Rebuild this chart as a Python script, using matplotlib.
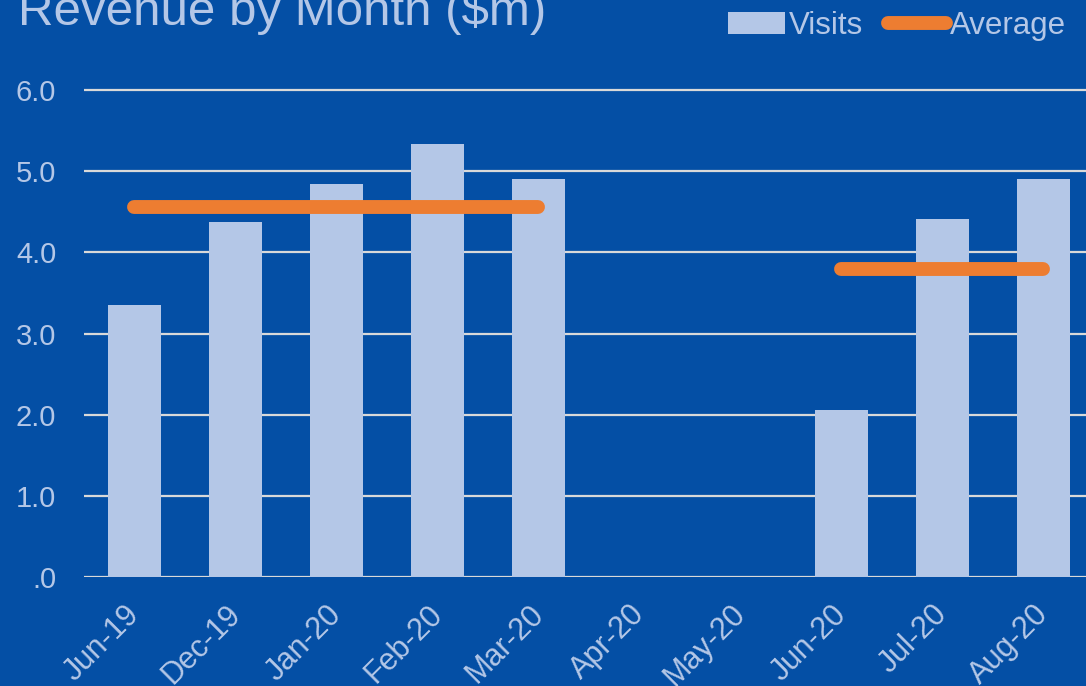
import matplotlib
matplotlib.use('Agg')
import matplotlib.pyplot as plt
import matplotlib.transforms as mtransforms
import numpy as np
from matplotlib.ticker import FuncFormatter

# data
months = ['Jun-19', 'Dec-19', 'Jan-20', 'Feb-20', 'Mar-20',
          'Apr-20', 'May-20', 'Jun-20', 'Jul-20', 'Aug-20']
visits = [3.35, 4.38, 4.84, 5.33, 4.91, np.nan, np.nan, 2.06, 4.41, 4.90]
average = [4.56, 4.56, 4.56, 4.56, 4.56, np.nan, np.nan, 3.79, 3.79, 3.79]
yticks = [0, 1, 2, 3, 4, 5, 6]

bg = '#044FA5'
bar_col = '#B4C7E7'
orange = '#ED7D31'
txt = '#B4C7E7'
plt.rcParams['font.family'] = ['Liberation Sans', 'DejaVu Sans']

fig = plt.figure(figsize=(10.86, 6.86), dpi=100, facecolor=bg)
# axes runs past the right edge like the original screenshot
ax = fig.add_axes([0.0773, 0.1589, 0.930, 0.7216])
ax.set_facecolor(bg)

x = np.arange(len(months))
bars = ax.bar(x, visits, width=0.52, color=bar_col, label='Visits', zorder=2)
line, = ax.plot(x, average, color=orange, linewidth=10, solid_capstyle='round',
                label='Average', zorder=3)

ax.set_xlim(-0.5, 9.5)
ax.set_ylim(0, 6.1)
ax.set_yticks(yticks)
ax.yaxis.set_major_formatter(FuncFormatter(lambda v, p: '.0' if v == 0 else '%.1f' % v))
ax.grid(axis='y', color='#D9D9D9', linewidth=1.6, zorder=1)
ax.set_axisbelow(True)
for s in ax.spines.values():
    s.set_visible(False)

ax.set_xticks(x)
ax.set_xticklabels(months, rotation=45, ha='right', rotation_mode='anchor')
ax.tick_params(axis='both', length=0, labelcolor=txt)
ax.tick_params(axis='y', pad=20, labelsize=21)
ax.tick_params(axis='x', pad=16, labelsize=22)
shift = mtransforms.ScaledTranslation(-10 / 100, 0, fig.dpi_scale_trans)
for lab in ax.get_xticklabels():
    lab.set_transform(lab.get_transform() + shift)

fig.text(0.0166, 0.9636, 'Revenue by Month ($m)', color=txt, fontsize=35.5,
         va='baseline', ha='left')

leg = fig.legend([bars, line], ['Visits', 'Average'], loc='center right',
                 bbox_to_anchor=(0.9816, 0.962), ncol=2,
                 frameon=False, fontsize=22.5, borderpad=0, borderaxespad=0,
                 handlelength=1.85, handletextpad=0.12, columnspacing=0.8)
for t in leg.get_texts():
    t.set_color(txt)

fig.savefig('out.png', dpi=100, facecolor=bg)
